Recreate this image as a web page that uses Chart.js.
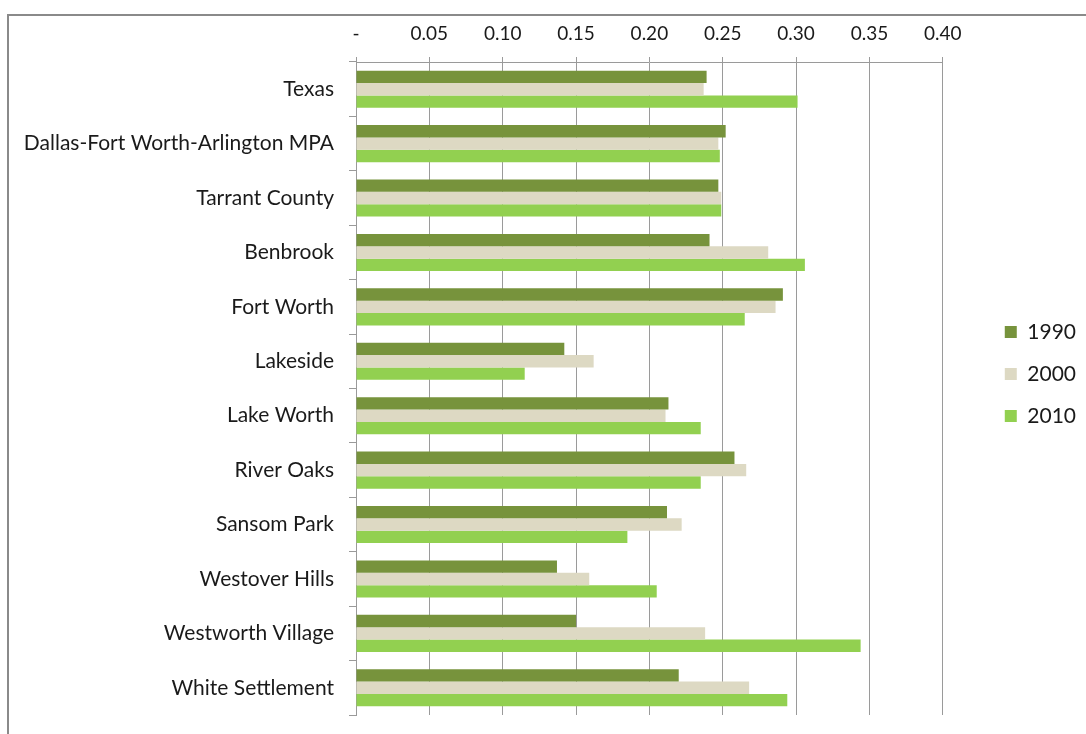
<!DOCTYPE html>
<html>
<head>
<meta charset="utf-8">
<script src="https://cdn.jsdelivr.net/npm/chart.js@4/dist/chart.umd.min.js"></script>
<style>
  html, body { margin: 0; padding: 0; background: #fff; overflow: hidden; }
  #frame {
    position: absolute; left: 7px; top: 14px; width: 1079px; height: 720px;
    border-left: 2px solid #8a8a8a; border-top: 2px solid #8a8a8a;
  }
  #frame canvas { display: block; }
</style>
</head>
<body>
<div id="frame"><canvas id="chart" width="1077" height="718"></canvas></div>
<script>
const categories = [
  "Texas", "Dallas-Fort Worth-Arlington MPA", "Tarrant County", "Benbrook",
  "Fort Worth", "Lakeside", "Lake Worth", "River Oaks", "Sansom Park",
  "Westover Hills", "Westworth Village", "White Settlement"
]
const years = ["1990", "2000", "2010"]
const values1990 = [0.239, 0.252, 0.247, 0.241, 0.291, 0.142, 0.213, 0.258, 0.212, 0.137, 0.150, 0.220]
const values2000 = [0.237, 0.247, 0.249, 0.281, 0.286, 0.162, 0.211, 0.266, 0.222, 0.159, 0.238, 0.268]
const values2010 = [0.301, 0.248, 0.249, 0.306, 0.265, 0.115, 0.235, 0.235, 0.185, 0.205, 0.344, 0.294]
const tickValues = [0, 0.05, 0.10, 0.15, 0.20, 0.25, 0.30, 0.35, 0.40]

const font = "Lato, 'Open Sans', sans-serif"
const textColor = "#1a1a1a"

new Chart(document.getElementById("chart"), {
  type: "bar",
  data: {
    labels: categories,
    datasets: [
      { label: years[0], data: values1990, backgroundColor: "#77933c" },
      { label: years[1], data: values2000, backgroundColor: "#ddd9c3" },
      { label: years[2], data: values2010, backgroundColor: "#92d050" }
    ]
  },
  options: {
    indexAxis: "y",
    responsive: false,
    animation: false,
    categoryPercentage: 0.68,
    barPercentage: 1,
    layout: { padding: { top: 0, right: 0, bottom: 19, left: 0 } },
    plugins: {
      legend: {
        position: "right",
        // empty title only nudges the items down a little
        title: { display: true, text: " ", font: { size: 14 }, padding: 0 },
        labels: {
          boxWidth: 12,
          boxHeight: 12,
          padding: 21,
          color: textColor,
          font: { family: font, size: 21 }
        }
      },
      tooltip: { enabled: false }
    },
    scales: {
      x: {
        position: "top",
        min: 0,
        max: 0.4,
        afterBuildTicks: s => { s.ticks = tickValues.map(v => ({ value: v })) },
        afterFit: s => { s.height = 46 },
        ticks: {
          padding: 12,
          color: textColor,
          font: { family: font, size: 19 },
          callback: v => v === 0 ? "-" : v.toFixed(2)
        },
        grid: { color: "#9a9a9a", lineWidth: 1, tickLength: 5 },
        border: { color: "#9a9a9a" }
      },
      y: {
        afterFit: s => {
          s.width = 347
          s.paddingTop = 0
          s.paddingBottom = 0
        },
        ticks: {
          padding: 15,
          color: textColor,
          font: { family: font, size: 21 }
        },
        grid: { drawOnChartArea: false, tickLength: 7, color: "#9a9a9a" },
        border: { color: "#9a9a9a" }
      },
      gap: {
        type: "linear",
        axis: "y",
        position: "right",
        afterFit: s => { s.width = 41 },
        ticks: { display: false },
        grid: { display: false },
        border: { display: false }
      }
    }
  }
})
</script>
</body>
</html>
